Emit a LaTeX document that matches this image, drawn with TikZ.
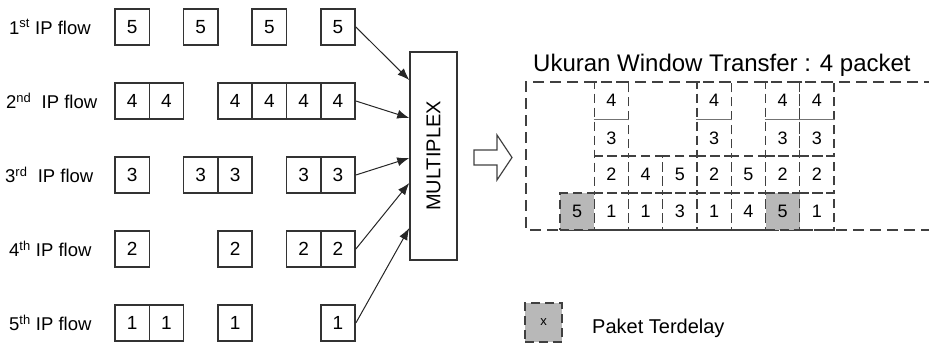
\documentclass[tikz,border=0pt]{standalone}
\usepackage{fontspec}
\setmainfont{Liberation Sans}
\usetikzlibrary{arrows.meta,calc}

\tikzset{
  pkt/.style={draw=black!80, line width=1.5pt, minimum width=34.3pt, minimum height=36pt,
    inner sep=0pt, font=\fontsize{19}{21}\selectfont},
  cell/.style={draw=black!75, line width=1.4pt, dash pattern=on 9pt off 5pt,
    minimum width=34.25pt, minimum height=37pt, inner sep=0pt, font=\fontsize{18}{20}\selectfont},
  late/.style={cell, fill=black!28},
  num/.style={inner sep=0pt, font=\fontsize{18}{20}\selectfont},
  flowlabel/.style={anchor=west, inner sep=0pt, font=\fontsize{18.5}{20}\selectfont},
  feed/.style={-{Latex[length=12pt,width=9pt]}, line width=1pt, black!85},
  window/.style={draw=black!75, line width=1.4pt, dash pattern=on 11pt off 6pt},
}

\begin{document}
\begin{tikzpicture}[x=1pt, y=-1pt]
    \useasboundingbox (0,0) rectangle (929,345);

    % IP flows, packet rows
    \foreach \r/\pk/\cols in {1/5/{0,2,4,6}, 2/4/{0,1,3,4,5,6}, 3/3/{0,2,3,5,6}, 4/2/{0,3,5,6}, 5/1/{0,1,3,6}} {
        \foreach \c in \cols
            \node[pkt] (p-\r-\c) at ({132.15+34.3*\c}, {27+74*(\r-1)}) {\pk};
    }
    \node[flowlabel] (f1) at (9,27)  {1\textsuperscript{st} IP flow};
    \node[flowlabel] (f2) at (6,101) {2\textsuperscript{nd}\ \ IP flow};
    \node[flowlabel] (f3) at (5,175) {3\textsuperscript{rd}\ \ IP flow};
    \node[flowlabel] (f4) at (9,249) {4\textsuperscript{th} IP flow};
    \node[flowlabel] (f5) at (9,323) {5\textsuperscript{th} IP flow};

    % multiplexer
    \node[draw=black!80, line width=1.5pt, minimum width=47pt, minimum height=208pt, inner sep=0pt] (mux) at (433.5,156) {};
    \node[rotate=90, font=\fontsize{20}{22}\selectfont] (muxtext) at (mux) {MULTIPLEX};
    \coordinate (in1) at (mux.west |- 0,80);
    \coordinate (in2) at (mux.west |- 0,118);
    \coordinate (in3) at (mux.west |- 0,158);
    \coordinate (in4) at (mux.west |- 0,183);
    \coordinate (in5) at (mux.west |- 0,228);
    \foreach \r in {1,...,5}
        \draw[feed] (p-\r-6.east) -- (in\r);

    % hollow arrow
    \draw[line width=1.2pt, black!75] (474,150) -- (497,150) -- (497,135) -- (512,157.5)
        -- (497,180) -- (497,165) -- (474,165) -- cycle;

    % transfer window
    \node[anchor=base west, inner sep=0pt, font=\fontsize{24}{26}\selectfont] (title) at (533,71) {Ukuran Window Transfer : 4 packet};
    \draw[window] (935,82) -- (526,82) -- (526,230) -- (935,230);

    % bottom row
    \foreach \c/\v in {1/1, 2/1, 3/3, 4/1, 5/4, 7/1}
        \node[cell] (w-1-\c) at ({577.125+34.25*\c}, 211.5) {\v};
    \foreach \c in {0,6}
        \node[late] (w-1-\c) at ({577.125+34.25*\c}, 211.5) {5};
    % second row
    \foreach \c/\v in {1/2, 2/4, 3/5, 4/2, 5/5, 6/2, 7/2}
        \node[cell] (w-2-\c) at ({577.125+34.25*\c}, 174.5) {\v};
    % 4 over 3 stacks
    \foreach \c in {1,4,6,7} {
        \node[cell, minimum height=74pt] (w-3-\c) at ({577.125+34.25*\c}, 119) {};
        \draw[black!55, line width=0.6pt] (w-3-\c.west) -- (w-3-\c.east);
        \node[num] (w-4n-\c) at ($(w-3-\c.north)!0.25!(w-3-\c.south)$) {4};
        \node[num] (w-3n-\c) at ($(w-3-\c.north)!0.75!(w-3-\c.south)$) {3};
    }

    % legend
    \node[late, minimum width=37pt, minimum height=39pt, font=\fontsize{13}{15}\selectfont] (key) at (543.5,322.5) {x};
    \node[anchor=west, inner sep=0pt, font=\fontsize{20}{22}\selectfont] (keytext) at (592,328) {Paket Terdelay};
\end{tikzpicture}
\end{document}
